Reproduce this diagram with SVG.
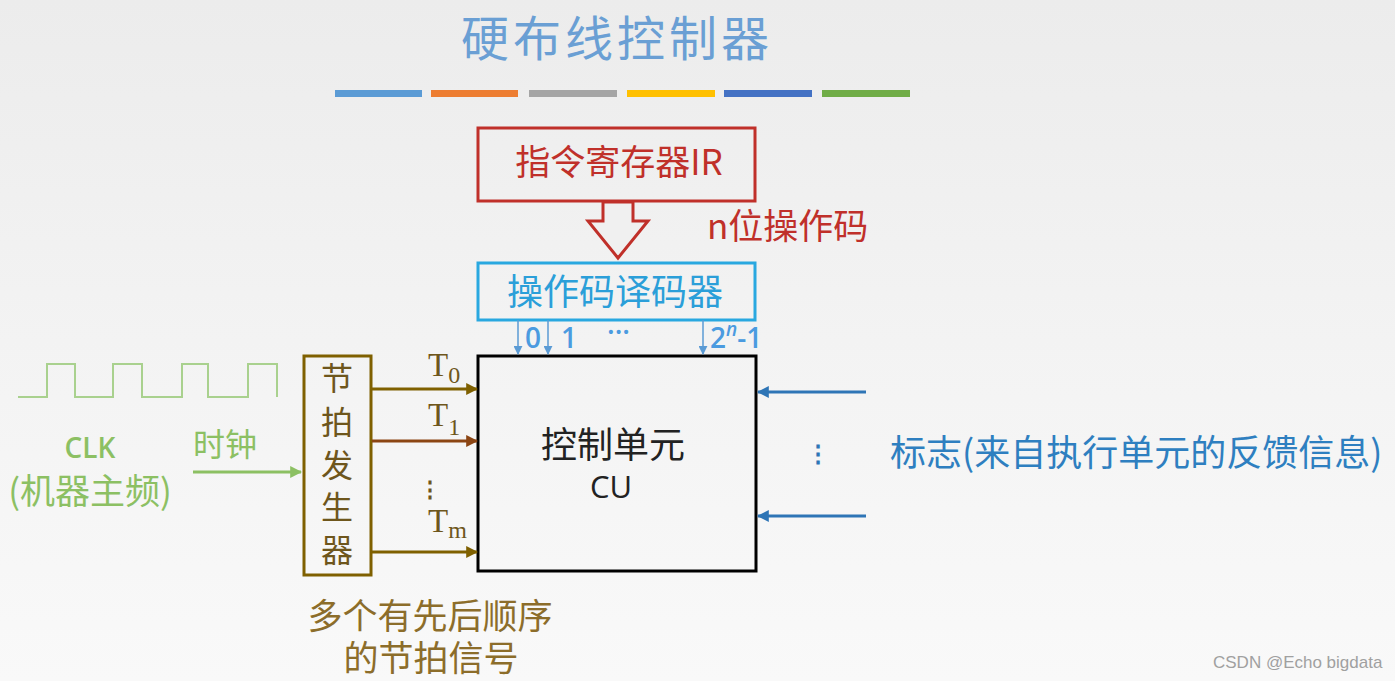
<svg xmlns="http://www.w3.org/2000/svg" width="1395" height="681" viewBox="0 0 1395 681">
<defs>
<linearGradient id="bg" x1="0" y1="0" x2="0" y2="1">
<stop offset="0" stop-color="#ececec"/>
<stop offset="0.5" stop-color="#f3f3f3"/>
<stop offset="1" stop-color="#f9f9f9"/>
</linearGradient>
<marker id="mBrown" viewBox="0 0 10 10" refX="9" refY="5" markerWidth="4" markerHeight="4" orient="auto" markerUnits="strokeWidth"><path d="M0,0 L10,5 L0,10 z" fill="#7f6000"/></marker>
<marker id="mRust" viewBox="0 0 10 10" refX="9" refY="5" markerWidth="4" markerHeight="4" orient="auto" markerUnits="strokeWidth"><path d="M0,0 L10,5 L0,10 z" fill="#8b4513"/></marker>
<marker id="mGreen" viewBox="0 0 10 10" refX="9" refY="5" markerWidth="4" markerHeight="4" orient="auto" markerUnits="strokeWidth"><path d="M0,0 L10,5 L0,10 z" fill="#8cc063"/></marker>
<marker id="mBlue" viewBox="0 0 10 10" refX="9" refY="5" markerWidth="4" markerHeight="4" orient="auto" markerUnits="strokeWidth"><path d="M0,0 L10,5 L0,10 z" fill="#2e75b6"/></marker>
<marker id="mLight" viewBox="0 0 10 10" refX="9" refY="5" markerWidth="6" markerHeight="6" orient="auto" markerUnits="strokeWidth"><path d="M0,0 L10,5 L0,10 z" fill="#5b9bd5"/></marker>
</defs>
<style>
.cjk{font-family:"Noto Sans CJK SC","Noto Sans",sans-serif;}
.ser{font-family:"Liberation Serif","DejaVu Serif",serif;}
.lat{font-family:"Open Sans","Noto Sans CJK SC",sans-serif;}
.box{fill:none;stroke-width:3;}
</style>
<rect x="0" y="0" width="1395" height="681" fill="url(#bg)"/>

<g id="title">
<text class="cjk" x="617" y="56" font-size="48" letter-spacing="4" fill="#6a9fd4" text-anchor="middle">硬布线控制器</text>
<rect x="335" y="90" width="87" height="7" fill="#5b9bd5"/>
<rect x="431" y="90" width="87" height="7" fill="#ed7d31"/>
<rect x="529" y="90" width="88" height="7" fill="#a5a5a5"/>
<rect x="627" y="90" width="88" height="7" fill="#ffc000"/>
<rect x="724" y="90" width="88" height="7" fill="#4472c4"/>
<rect x="822" y="90" width="88" height="7" fill="#70ad47"/>
</g>

<g id="ir">
<rect class="box" x="478" y="128" width="277" height="73" stroke="#c0302a"/>
<text class="cjk" x="619" y="175" font-size="35" fill="#c0302a" text-anchor="middle">指令寄存器IR</text>
</g>

<g id="opcode-label">
<text class="cjk" x="707" y="239" font-size="35" fill="#c0302a">n位操作码</text>
</g>

<g id="decoder">
<rect class="box" x="478" y="263" width="277" height="57" stroke="#29a8e0"/>
<text class="cjk" x="615" y="305" font-size="36" fill="#2b9fd9" text-anchor="middle">操作码译码器</text>
</g>

<g id="cu">
<rect class="box" x="478" y="356" width="278" height="215" stroke="#000"/>
<text class="cjk" x="613" y="458" font-size="36" fill="#222" text-anchor="middle">控制单元</text>
<text class="lat" x="611" y="498" font-size="31" fill="#222" text-anchor="middle">CU</text>
</g>

<g id="beat-gen">
<rect class="box" x="304" y="356" width="67" height="219" stroke="#7f6000"/>
<g class="cjk" font-size="32" fill="#6e561c" text-anchor="middle">
<text x="337" y="390">节</text>
<text x="337" y="434">拍</text>
<text x="337" y="477">发</text>
<text x="337" y="519">生</text>
<text x="337" y="562">器</text>
</g>
</g>

<g id="clock">
<polyline points="18,397 47,397 47,364 75,364 75,397 113,397 113,364 142,364 142,397 182,397 182,364 208,364 208,397 248,397 248,364 277,364 277,397" fill="none" stroke="#a9d18e" stroke-width="2"/>
<text class="lat" x="90" y="458" font-size="28" font-weight="600" fill="#8cc063" text-anchor="middle">CLK</text>
<text class="cjk" x="90" y="504" font-size="35" fill="#8cc063" text-anchor="middle">(机器主频)</text>
<text class="cjk" x="225" y="456" font-size="32" fill="#8cc063" text-anchor="middle">时钟</text>
</g>

<g id="flags">
<text class="cjk" x="890" y="466" font-size="36" fill="#2e7fc0">标志(来自执行单元的反馈信息)</text>
<text class="cjk" x="818" y="462" font-size="24" fill="#2e75b6" text-anchor="middle" font-weight="bold">⋮</text>
</g>

<g id="beat-note">
<text class="cjk" font-size="35" fill="#8c6d2a" text-anchor="middle"><tspan x="430" y="629">多个有先后顺序</tspan><tspan x="431" y="671">的节拍信号</tspan></text>
</g>

<g id="connectors">
<polygon points="603,202 603,221 588,221 618,258 648,221 633,221 633,202" fill="#f0f0f0" stroke="#c0302a" stroke-width="3" stroke-linejoin="miter"/>
<line x1="518" y1="320" x2="518" y2="354" stroke="#5b9bd5" stroke-width="1.5" marker-end="url(#mLight)"/>
<line x1="548" y1="320" x2="548" y2="354" stroke="#5b9bd5" stroke-width="1.5" marker-end="url(#mLight)"/>
<line x1="703" y1="320" x2="703" y2="354" stroke="#5b9bd5" stroke-width="1.5" marker-end="url(#mLight)"/>
<line x1="372" y1="389" x2="477" y2="389" stroke="#7f6000" stroke-width="3" marker-end="url(#mBrown)"/>
<line x1="372" y1="441" x2="477" y2="441" stroke="#8b4513" stroke-width="3" marker-end="url(#mRust)"/>
<line x1="372" y1="552" x2="477" y2="552" stroke="#7f6000" stroke-width="3" marker-end="url(#mBrown)"/>
<line x1="193" y1="472" x2="301" y2="472" stroke="#8cc063" stroke-width="3" marker-end="url(#mGreen)"/>
<line x1="866" y1="392" x2="758" y2="392" stroke="#2e75b6" stroke-width="3" marker-end="url(#mBlue)"/>
<line x1="866" y1="516" x2="758" y2="516" stroke="#2e75b6" stroke-width="3" marker-end="url(#mBlue)"/>
</g>

<g id="labels">
<g class="lat" font-size="28" fill="#4b9be0" font-weight="600">
<text x="525" y="348">0</text>
<text x="561" y="348">1</text>
<text x="607" y="342">···</text>
<text x="710" y="348">2<tspan font-style="italic" font-size="19" dy="-12">n</tspan><tspan dy="12">-1</tspan></text>
</g>
<g class="ser" fill="#6e561c">
<text x="428" y="376" font-size="33">T<tspan font-size="24" dy="7">0</tspan></text>
<text x="428" y="426" font-size="33">T<tspan font-size="24" dy="9">1</tspan></text>
<text x="419" y="497" font-size="22" font-weight="bold">⋮</text>
<text x="428" y="532" font-size="33">T<tspan font-size="24" dy="6">m</tspan></text>
</g>
</g>

<text x="1213" y="668" font-family="Liberation Sans, Arial, sans-serif" font-size="17" fill="#a0a0a0">CSDN @Echo bigdata</text>
</svg>
